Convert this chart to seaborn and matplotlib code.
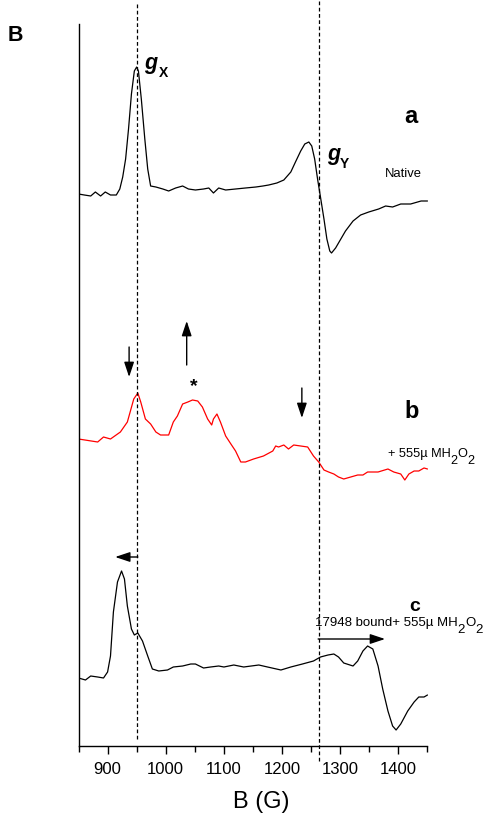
import numpy as np
import pandas as pd
import matplotlib
matplotlib.use("Agg")
import matplotlib.pyplot as plt
import seaborn as sns

# ---------------- data ----------------
field_a = [850, 860, 871, 879, 888, 896, 905, 915, 921, 926, 931, 936, 941, 946, 950, 953,
           958, 964, 969, 974, 983, 995, 1005, 1017, 1029, 1039, 1051, 1065, 1074, 1082,
           1091, 1103, 1120, 1137, 1155, 1167, 1177, 1191, 1203, 1215, 1223, 1232, 1239,
           1246, 1251, 1256, 1261, 1266, 1272, 1277, 1282, 1285, 1292, 1301, 1309, 1322,
           1335, 1349, 1366, 1378, 1390, 1404, 1421, 1439, 1450]
signal_a = [0, -1, -2, 2, -2, 2, -1, -1, 5, 17, 35, 65, 100, 123, 127, 123,
            95, 55, 25, 8, 7, 5, 3, 6, 8, 5, 4, 5, 6, 1,
            6, 4, 5, 6, 7, 8, 9, 11, 14, 22, 32, 43, 50,
            52, 48, 35, 15, -3, -25, -45, -57, -59, -54, -45, -37, -27,
            -21, -18, -15, -12, -13, -10, -10, -7, -7]

field_b = [850, 883, 893, 905, 922, 934, 945, 952, 957, 965, 974, 983, 991, 1005, 1013,
           1020, 1029, 1038, 1046, 1055, 1063, 1072, 1079, 1082, 1088, 1094, 1103, 1112,
           1120, 1129, 1137, 1151, 1168, 1184, 1189, 1194, 1203, 1211, 1220, 1232, 1244,
           1254, 1263, 1272, 1280, 1289, 1297, 1306, 1318, 1330, 1339, 1347, 1365, 1382,
           1392, 1404, 1411, 1418, 1427, 1435, 1444, 1450]
signal_b = [0, -3, 2, 0, 7, 17, 40, 46, 37, 20, 15, 7, 4, 4, 17,
            23, 35, 37, 39, 38, 32, 20, 14, 20, 25, 17, 3, -5,
            -12, -23, -23, -20, -17, -12, -7, -8, -6, -10, -6, -7, -8,
            -17, -23, -31, -33, -35, -38, -40, -38, -36, -36, -33, -33, -30,
            -33, -35, -41, -35, -32, -32, -29, -30]

field_c = [850, 862, 871, 883, 893, 900, 905, 910, 917, 924, 929, 934, 941, 946, 952,
           960, 969, 977, 988, 1003, 1013, 1029, 1043, 1051, 1065, 1077, 1091, 1100, 1117,
           1134, 1160, 1175, 1198, 1215, 1235, 1254, 1266, 1279, 1289, 1297, 1306, 1322,
           1330, 1339, 1347, 1356, 1365, 1373, 1382, 1390, 1396, 1404, 1416, 1427, 1435,
           1444, 1450]
signal_c = [0, -2, 2, 1, 0, 6, 22, 66, 96, 107, 99, 72, 49, 43, 45,
            37, 22, 9, 7, 8, 11, 12, 14, 14, 10, 11, 12, 11, 13,
            11, 13, 11, 8, 11, 14, 17, 21, 23, 24, 21, 15, 12,
            17, 27, 32, 29, 12, -11, -33, -48, -52, -46, -33, -24, -19,
            -19, -17]

trace_names = ["a", "b", "c"]
x_major_ticks = [900, 1000, 1100, 1200, 1300, 1400]
x_minor_ticks = [850, 950, 1050, 1150, 1250, 1350, 1450]
g_lines = [951, 1263]

# ---------------- style / layout ----------------
sns.set_theme(style="ticks")
plt.rcParams["font.family"] = ["Liberation Sans", "DejaVu Sans"]
plt.rcParams["text.color"] = "black"
plt.rcParams["axes.labelcolor"] = "black"
plt.rcParams["xtick.color"] = "black"
plt.rcParams["axes.edgecolor"] = "black"

W, H = 484, 820
fig = plt.figure(figsize=(W / 100, H / 100), dpi=100)
fig.patch.set_facecolor("white")
ax = fig.add_axes([78.5 / W, 1 - 747 / H, 349 / W, 722 / H])
ax.set_facecolor("white")

offsets = {"a": 552, "b": 307, "c": 68}
colors = {"a": "black", "b": "#ff0000", "c": "black"}

frames = []
for name, fx, sy in zip(trace_names, [field_a, field_b, field_c],
                        [signal_a, signal_b, signal_c]):
    d = pd.DataFrame({"B": fx, "I": np.array(sy, float) + offsets[name]})
    d["trace"] = name
    frames.append(d)
df = pd.concat(frames, ignore_index=True)

sns.lineplot(data=df, x="B", y="I", hue="trace", units="trace", estimator=None,
             sort=False, palette=colors, legend=False, linewidth=0.9, ax=ax)

ax.set_xlim(850, 1450)
ax.set_ylim(0, 722)
ax.set_yticks([])
ax.set_ylabel("")
for s in ["top", "right"]:
    ax.spines[s].set_visible(False)
for s in ["left", "bottom"]:
    ax.spines[s].set_color("black")
    ax.spines[s].set_linewidth(1.0)

ax.set_xticks(x_major_ticks)
ax.set_xticks(x_minor_ticks, minor=True)
ax.tick_params(axis="x", which="major", direction="out", length=6, width=1.0,
               labelsize=12, pad=4.5, colors="black", labelcolor="black")
ax.tick_params(axis="x", which="minor", direction="out", length=4, width=1.0,
               colors="black")
ax.set_xlabel("B (G)", fontsize=17, color="black")
ax.xaxis.set_label_coords(0.525, -0.061)

# dashed g-value lines extending beyond the axes
ax.axvline(g_lines[0], ymin=7 / 722, ymax=742 / 722, clip_on=False,
           color="black", lw=0.9, ls=(0, (3, 2)))
ax.axvline(g_lines[1], ymin=-15 / 722, ymax=745 / 722, clip_on=False,
           color="black", lw=0.9, ls=(0, (3, 2)))

# arrows
arrow_kw = dict(arrowstyle="-|>,head_length=0.45,head_width=0.15", mutation_scale=20,
                color="black", lw=1.0, shrinkA=0, shrinkB=0)
for (x0, y0, x1, y1) in [(937, 399, 937, 369), (1036, 381, 1036, 425),
                         (1234, 358, 1234, 328), (952, 189, 913, 189),
                         (1262, 107, 1377, 107)]:
    ax.annotate("", xy=(x1, y1), xytext=(x0, y0), arrowprops=arrow_kw,
                annotation_clip=False)
ax.text(1049, 360, "*", fontsize=14, fontweight="bold", ha="center", va="center",
        color="black")

# ---------------- texts ----------------
def ftext(x, y, s, **kw):
    return fig.text(x / W, 1 - y / H, s, va="baseline", ha="left", color="black", **kw)

fig.canvas.draw()
renderer = fig.canvas.get_renderer()

def chain(x, y, pieces, size):
    for s, dy in pieces:
        t = ftext(x, y + dy, s, fontsize=size)
        bb = t.get_window_extent(renderer)
        x = bb.x1

ftext(8, 41, "B", fontsize=15.5, fontweight="bold")
ftext(144, 69, "g", fontsize=15.5, fontweight="bold", fontstyle="italic")
ftext(159, 77, "X", fontsize=10, fontweight="bold")
ftext(327, 160, "g", fontsize=15.5, fontweight="bold", fontstyle="italic")
ftext(340, 168, "Y", fontsize=10, fontweight="bold")
ftext(404, 123, "a", fontsize=17, fontweight="bold")
ftext(385, 177, "Native", fontsize=9.4)
ftext(404, 418, "b", fontsize=17, fontweight="bold")
chain(388, 457, [("+ 555\u00b5 MH", 0), ("2", 7), ("O", 0), ("2", 7)], 9.2)
ftext(409, 611, "c", fontsize=14, fontweight="bold")
chain(315, 626, [("17948 bound+ 555\u00b5 MH", 0), ("2", 7), ("O", 0), ("2", 7)], 9.5)

fig.savefig("out.png", dpi=100, facecolor="white")
